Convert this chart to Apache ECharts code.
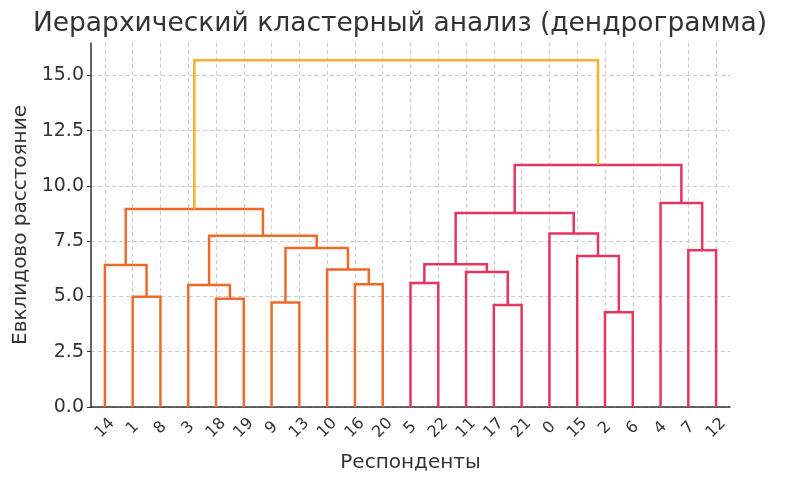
<!DOCTYPE html>
<html>
<head>
<meta charset="utf-8">
<script src="https://cdn.jsdelivr.net/npm/echarts@6/dist/echarts.min.js"></script>
<style>
  html, body { margin: 0; padding: 0; background: #fff; }
  #chart { width: 800px; height: 478px; }
</style>
</head>
<body>
<div id="chart"></div>
<script>
// порядок листьев слева направо
var leafOrder = [14, 1, 8, 3, 18, 19, 9, 13, 10, 16, 20, 5, 22, 11, 17, 21, 0, 15, 2, 6, 4, 7, 12];
// объединения: [id, левый узел, правый узел, высота]; узлы 'mN' — кластеры
var mergeLeft = [a('m23', 1, 8, 4.99), a('m24', 14, 'm23', 6.42), a('m25', 18, 19, 4.89),
  a('m26', 3, 'm25', 5.52), a('m27', 9, 13, 4.73), a('m28', 16, 20, 5.55),
  a('m29', 10, 'm28', 6.22), a('m30', 'm27', 'm29', 7.19), a('m31', 'm26', 'm30', 7.74),
  a('m32', 'm24', 'm31', 8.95)];
var mergeRight = [a('m33', 5, 22, 5.61), a('m34', 17, 21, 4.61), a('m35', 11, 'm34', 6.10),
  a('m36', 'm33', 'm35', 6.45), a('m37', 2, 6, 4.28), a('m38', 15, 'm37', 6.83),
  a('m39', 0, 'm38', 7.85), a('m40', 'm36', 'm39', 8.77), a('m41', 7, 12, 7.09),
  a('m42', 4, 'm41', 9.23), a('m43', 'm40', 'm42', 10.94)];
var mergeTop = [a('m44', 'm32', 'm43', 15.68)];
var yTicks = [0, 2.5, 5, 7.5, 10, 12.5, 15];

function a(id, l, r, h) { return { id: id, l: l, r: r, h: h }; }

var colors = ['#ee6a2a', '#e6365f', '#f5b12a'];

// координаты узлов как в scipy: лист i в 5 + 10*i
var pos = {};
leafOrder.forEach(function (leaf, i) { pos[leaf] = { x: 5 + 10 * i, h: 0 }; });
var links = [];
[mergeLeft, mergeRight, mergeTop].forEach(function (group, gi) {
  group.forEach(function (m) {
    var L = pos[m.l], R = pos[m.r];
    pos[m.id] = { x: (L.x + R.x) / 2, h: m.h };
    links.push([L.x, L.h, R.x, R.h, m.h, gi]);
  });
});

var myChart = echarts.init(document.getElementById('chart'));
var option = {
  backgroundColor: '#fff',
  animation: false,
  title: {
    text: 'Иерархический кластерный анализ (дендрограмма)',
    left: 'center',
    top: 6,
    textStyle: { fontFamily: 'DejaVu Sans', fontSize: 26.5, fontWeight: 'normal', color: '#333' }
  },
  grid: { left: 91, right: 70, top: 43, bottom: 71 },
  xAxis: [
    {
      type: 'category',
      data: leafOrder.map(String),
      boundaryGap: true,
      name: 'Респонденты',
      nameLocation: 'middle',
      nameGap: 46,
      nameTextStyle: { fontFamily: 'DejaVu Sans', fontSize: 20, color: '#333' },
      axisLine: { lineStyle: { color: '#333', width: 1.5 } },
      axisTick: { show: false },
      axisLabel: {
        rotate: 45, align: 'center', verticalAlign: 'middle', margin: 21,
        fontFamily: 'DejaVu Sans', fontSize: 16, color: '#333', interval: 0
      },
      splitLine: { show: true, alignWithLabel: true, lineStyle: { color: '#ccc', type: [4, 3], width: 1 } }
    },
    {
      type: 'value',
      min: 0,
      max: 10 * leafOrder.length,
      show: false
    }
  ],
  yAxis: {
    type: 'value',
    min: 0,
    max: 16.46,
    interval: 2.5,
    name: 'Евклидово расстояние',
    nameLocation: 'middle',
    nameGap: 60,
    nameTextStyle: { fontFamily: 'DejaVu Sans', fontSize: 20, color: '#333' },
    axisLine: { show: true, lineStyle: { color: '#333', width: 1.5 } },
    axisTick: { show: true, length: 4, lineStyle: { color: '#333' } },
    axisLabel: {
      showMaxLabel: false,
      fontFamily: 'DejaVu Sans', fontSize: 19, color: '#333', margin: 7,
      formatter: function (v) { return yTicks.indexOf(v) >= 0 ? v.toFixed(1) : ''; }
    },
    splitLine: { show: true, showMaxLine: false, lineStyle: { color: '#ccc', type: [4, 3], width: 1 } }
  },
  series: [{
    type: 'custom',
    xAxisIndex: 1,
    yAxisIndex: 0,
    data: links,
    encode: { x: [0, 2], y: [1, 3, 4] },
    renderItem: function (params, api) {
      var xl = api.value(0), hl = api.value(1), xr = api.value(2), hr = api.value(3), h = api.value(4);
      var pts = [api.coord([xl, hl]), api.coord([xl, h]), api.coord([xr, h]), api.coord([xr, hr])];
      return {
        type: 'polyline',
        shape: { points: pts },
        style: { stroke: colors[api.value(5)], lineWidth: 2.5, fill: null }
      };
    },
    z: 5
  }]
};
myChart.setOption(option);
</script>
</body>
</html>
